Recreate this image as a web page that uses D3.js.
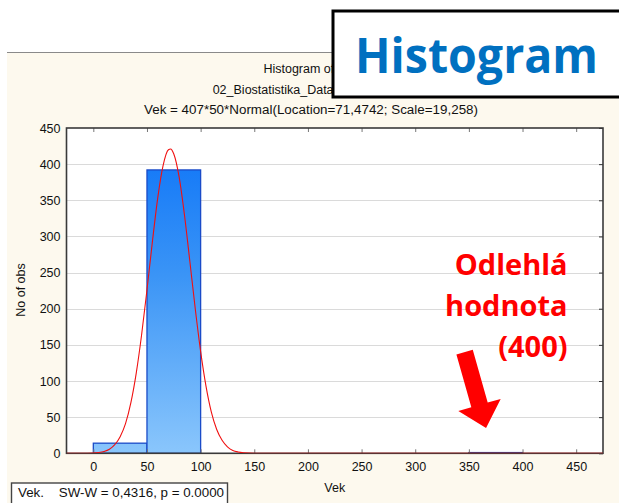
<!DOCTYPE html>
<html>
<head>
<meta charset="utf-8">
<script src="https://cdn.jsdelivr.net/npm/d3@7"></script>
<style>
  body { margin: 0; background: #fff; }
  svg { display: block; font-family: "Liberation Sans", Arial, sans-serif; }
  .pre { white-space: pre; }
</style>
</head>
<body>
<div id="chart"></div>
<script>
// histogram bins (Vek) and counts
const binStarts = [0, 50, 350];
const binEnds = [50, 100, 400];
const binCounts = [14, 392, 1];

// fitted normal curve as drawn
const curveX = [-25, -10, 0, 5, 10, 15, 20, 25, 30, 35, 40, 45, 50, 55, 60, 65, 70, 72, 75, 80, 85, 90, 95, 100, 105, 110, 115, 120, 125, 130, 135, 140, 150, 200, 300, 400, 475];
const curveY = [0, 0, 0.4, 1.1, 2.6, 5.7, 12, 23, 41, 70, 111, 164, 226, 292, 353, 398, 420, 421, 414, 382, 329, 265, 200, 141, 93, 57, 33, 18, 9, 4, 1.8, 0.8, 0.1, 0, 0, 0, 0];

const xTicks = [0, 50, 100, 150, 200, 250, 300, 350, 400, 450];
const yTicks = [0, 50, 100, 150, 200, 250, 300, 350, 400, 450];

const titleLines = [
  "Histogram of Vek",
  "02_Biostatistika_Data.sta 10v*407c",
  "Vek = 407*50*Normal(Location=71,4742; Scale=19,258)"
];
const noteLines = ["Odlehlá", "hodnota", "(400)"];
const statsText = "Vek.    SW-W = 0,4316, p = 0.0000";

const W = 619, H = 503;
const plot = {left: 66.5, right: 603, top: 128, bottom: 453.3};

const svg = d3.select("#chart").append("svg")
    .attr("width", W)
    .attr("height", H);

// cream panel behind the statistica chart
svg.append("rect")
    .attr("x", 7).attr("y", 52)
    .attr("width", W - 7).attr("height", H - 52)
    .attr("fill", "#fdf9ee");
svg.append("line")
    .attr("x1", 7).attr("x2", W)
    .attr("y1", 52.5).attr("y2", 52.5)
    .attr("stroke", "#8a8a8a").attr("stroke-width", 1);

// titles (partly hidden by the box later)
svg.append("g").selectAll("text")
    .data(titleLines)
    .enter().append("text")
    .attr("x", 311)
    .attr("y", (d, i) => 73 + i * 20.5)
    .attr("text-anchor", "middle")
    .attr("font-size", 12.5)
    .attr("fill", "#111")
    .text(d => d);
svg.select("g").selectAll("text").filter((d, i) => i === 2)
    .attr("textLength", 334).attr("lengthAdjust", "spacingAndGlyphs");

const x = d3.scaleLinear().domain([-25, 475]).range([plot.left, plot.right]);
const y = d3.scaleLinear().domain([0, 450]).range([plot.bottom, plot.top]);

svg.append("rect")
    .attr("x", plot.left).attr("y", plot.top)
    .attr("width", plot.right - plot.left).attr("height", plot.bottom - plot.top)
    .attr("fill", "#fff");

// gridlines
svg.append("g").selectAll("line")
    .data(yTicks.slice(1, -1))
    .enter().append("line")
    .attr("x1", plot.left).attr("x2", plot.right)
    .attr("y1", d => Math.round(y(d)) + 0.5).attr("y2", d => Math.round(y(d)) + 0.5)
    .attr("stroke", "#dadada").attr("stroke-width", 1);

const defs = svg.append("defs");
const grad = defs.append("linearGradient")
    .attr("id", "barfill")
    .attr("gradientUnits", "userSpaceOnUse")
    .attr("x1", 0).attr("x2", 0)
    .attr("y1", plot.top).attr("y2", plot.bottom);
grad.append("stop").attr("offset", "0%").attr("stop-color", "#0a72f8");
grad.append("stop").attr("offset", "45%").attr("stop-color", "#3a94f6");
grad.append("stop").attr("offset", "100%").attr("stop-color", "#8ac6fc");

defs.append("clipPath").attr("id", "plotclip")
  .append("rect")
    .attr("x", plot.left).attr("y", plot.top - 1)
    .attr("width", plot.right - plot.left).attr("height", plot.bottom - plot.top + 1);

// bars
svg.append("g").selectAll("rect")
    .data(binCounts)
    .enter().append("rect")
    .attr("x", (d, i) => x(binStarts[i]))
    .attr("width", (d, i) => x(binEnds[i]) - x(binStarts[i]))
    .attr("y", d => y(d))
    .attr("height", d => Math.max(0.8, plot.bottom - y(d)))
    .attr("fill", "url(#barfill)")
    .attr("stroke", "#1a4bc8")
    .attr("stroke-width", 1.3);

// axes
const axisFont = g => g.selectAll("text")
    .attr("font-size", 12.5)
    .attr("font-family", "Liberation Sans, Arial, sans-serif")
    .attr("fill", "#111");

svg.append("g")
    .attr("transform", `translate(0,${plot.bottom})`)
    .call(d3.axisBottom(x).tickValues(xTicks).tickSizeInner(-4).tickSizeOuter(0).tickPadding(9))
    .call(g => g.select(".domain").remove())
    .call(g => g.selectAll("line").attr("stroke", "#777"))
    .call(axisFont);

svg.append("g")
    .attr("transform", `translate(${plot.left},0)`)
    .call(d3.axisLeft(y).tickValues(yTicks).tickSize(0).tickPadding(6))
    .call(g => g.select(".domain").remove())
    .call(axisFont);

svg.append("g")
    .attr("transform", `translate(0,${plot.top})`)
    .call(d3.axisTop(x).tickValues(xTicks).tickSizeInner(-4).tickSizeOuter(0).tickFormat(""))
    .call(g => g.select(".domain").remove())
    .call(g => g.selectAll("line").attr("stroke", "#777"));

svg.append("g")
    .attr("transform", `translate(${plot.right},0)`)
    .call(d3.axisRight(y).tickValues(yTicks).tickSizeInner(-4).tickSizeOuter(0).tickFormat(""))
    .call(g => g.select(".domain").remove())
    .call(g => g.selectAll("line").attr("stroke", "#333"));

// plot frame
svg.append("rect")
    .attr("x", plot.left).attr("y", plot.top)
    .attr("width", plot.right - plot.left).attr("height", plot.bottom - plot.top)
    .attr("fill", "none")
    .attr("stroke", "#3a3a3a")
    .attr("stroke-width", 1.6);

// fitted normal curve
const line = d3.line()
    .x((d, i) => x(curveX[i]))
    .y(d => y(d))
    .curve(d3.curveMonotoneX);
svg.append("path")
    .datum(curveY)
    .attr("clip-path", "url(#plotclip)")
    .attr("d", line)
    .attr("fill", "none")
    .attr("stroke", "#f01010")
    .attr("stroke-width", 1.1);

// axis titles
svg.append("text")
    .attr("x", (plot.left + plot.right) / 2)
    .attr("y", 492)
    .attr("text-anchor", "middle")
    .attr("font-size", 12.5)
    .attr("fill", "#111")
    .text("Vek");

svg.append("text")
    .attr("transform", "translate(25,290) rotate(-90)")
    .attr("text-anchor", "middle")
    .attr("font-size", 12.5)
    .attr("fill", "#111")
    .text("No of obs");

// Shapiro-Wilk box
svg.append("rect")
    .attr("x", 11.5).attr("y", 483)
    .attr("width", 216).attr("height", 30)
    .attr("fill", "#fff")
    .attr("stroke", "#444")
    .attr("stroke-width", 1.4);
svg.append("text")
    .attr("class", "pre")
    .attr("x", 18).attr("y", 497)
    .attr("font-size", 13)
    .attr("fill", "#111")
    .attr("textLength", 206)
    .attr("lengthAdjust", "spacingAndGlyphs")
    .text(statsText);

// "Histogram" slide label box
svg.append("rect")
    .attr("x", 333).attr("y", 11)
    .attr("width", 300).attr("height", 86)
    .attr("fill", "#fff")
    .attr("stroke", "#000")
    .attr("stroke-width", 3);
svg.append("text")
    .attr("x", 355)
    .attr("y", 73)
    .attr("font-family", "Open Sans, sans-serif")
    .attr("font-weight", "bold")
    .attr("font-size", 48)
    .attr("fill", "#0070c0")
    .attr("textLength", 243)
    .attr("lengthAdjust", "spacingAndGlyphs")
    .text("Histogram");

// outlier annotation
svg.append("g").selectAll("text")
    .data(noteLines)
    .enter().append("text")
    .attr("x", x(442))
    .attr("y", (d, i) => y(247) + i * 41)
    .attr("text-anchor", "end")
    .attr("font-family", "Open Sans, sans-serif")
    .attr("font-weight", "bold")
    .attr("font-size", 29)
    .attr("fill", "#ff0000")
    .text(d => d);

// arrow pointing to the 350-400 bin
const tail = [x(346), y(140)], tip = [x(366), y(35)];
const len = Math.hypot(tip[0] - tail[0], tip[1] - tail[1]);
const ang = Math.atan2(tip[1] - tail[1], tip[0] - tail[0]) * 180 / Math.PI;
const headLen = 24, shaftHalf = 8.5, headHalf = 22;
svg.append("path")
    .attr("transform", `translate(${tail[0]},${tail[1]}) rotate(${ang})`)
    .attr("d", `M0,${-shaftHalf}L${len - headLen},${-shaftHalf}L${len - headLen},${-headHalf}L${len},0L${len - headLen},${headHalf}L${len - headLen},${shaftHalf}L0,${shaftHalf}Z`)
    .attr("fill", "#ff0000");
</script>
</body>
</html>
